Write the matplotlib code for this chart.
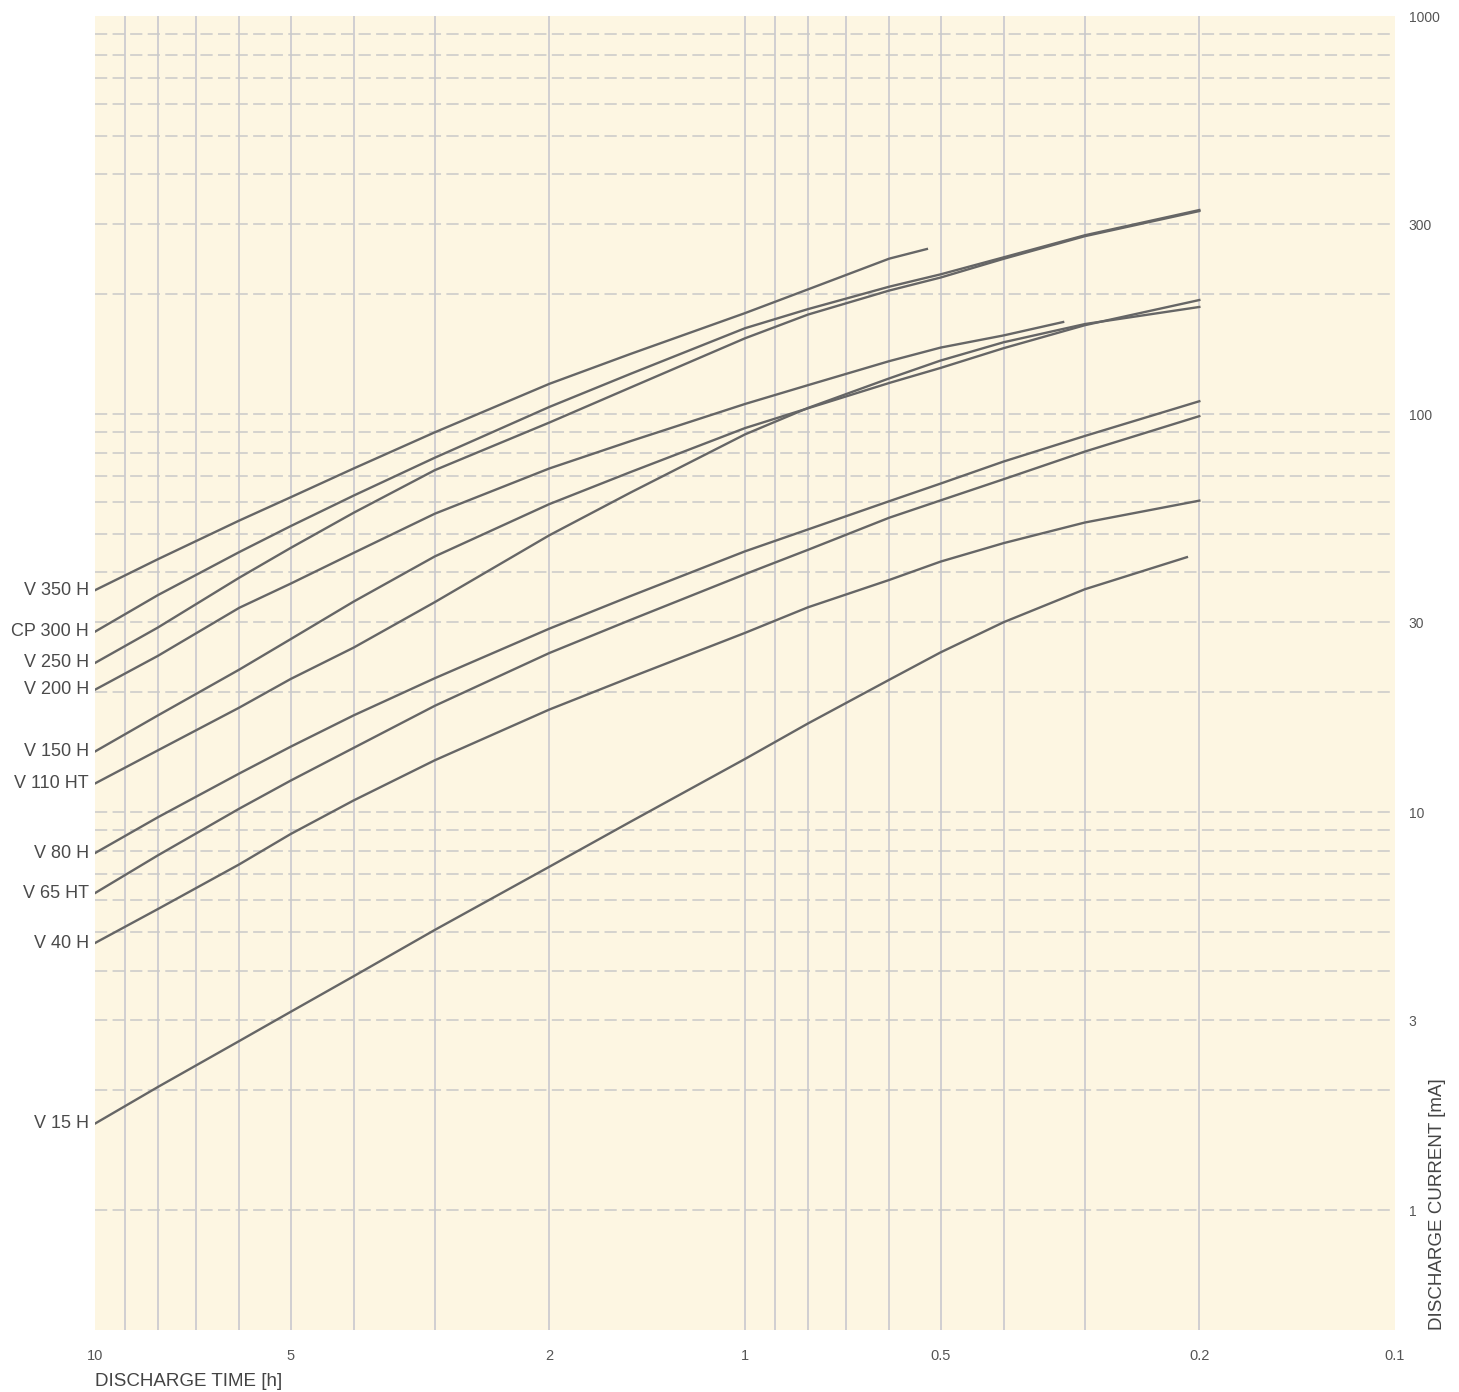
import matplotlib
matplotlib.use('Agg')
import matplotlib.pyplot as plt
from matplotlib.ticker import NullLocator

plt.rcParams['font.family'] = ['Liberation Sans', 'DejaVu Sans']

# discharge time [h] vs discharge current [mA]
time_h = [10, 8, 6, 5, 4, 3, 2, 1.5, 1, 0.8, 0.6, 0.5, 0.4, 0.3, 0.2]

v350h_t = [10, 8, 6, 5, 4, 3, 2, 1.5, 1, 0.8, 0.6, 0.525]
v350h_i = [36.1, 43.2, 54.0, 61.8, 73.0, 90.0, 119.1, 141.6, 179.3, 205.7, 245.7, 259.8]

cp300h_i = [28.4, 35.1, 45.0, 52.3, 62.4, 77.7, 104.2, 126.2, 164.3, 183.5, 208.9, 224.4,
            247.6, 281.3, 325.5]

v250h_i = [23.7, 29.1, 38.8, 46.1, 56.5, 72.3, 95.2, 116.6, 155.0, 177.8, 204.3, 220.3,
           245.5, 279.8, 323.6]

v200h_t = [10, 8, 6, 5, 4, 3, 2, 1.5, 1, 0.8, 0.6, 0.5, 0.4, 0.324]
v200h_i = [20.3, 24.7, 32.6, 37.5, 44.8, 56.2, 73.0, 85.5, 106.0, 118.2, 135.8, 146.9,
           157.6, 170.3]

v150h_i = [14.2, 17.5, 22.8, 27.2, 33.8, 43.9, 59.4, 71.5, 92.2, 103.4, 119.7, 130.6,
           146.4, 167.2, 193.4]

v110ht_i = [11.8, 14.3, 18.3, 21.6, 25.9, 33.7, 49.6, 63.5, 88.9, 103.6, 122.9, 136.3,
            151.5, 168.3, 185.8]

v80h_i = [7.89, 9.71, 12.5, 14.6, 17.5, 21.7, 28.9, 34.9, 45.2, 51.3, 60.4, 66.9,
          76.0, 88.1, 107.7]

v65ht_i = [6.26, 7.79, 10.2, 12.0, 14.5, 18.5, 25.1, 30.4, 39.6, 45.6, 54.9, 60.7,
           68.6, 80.5, 98.8]

v40h_i = [4.69, 5.71, 7.39, 8.81, 10.7, 13.5, 18.1, 21.8, 28.2, 32.7, 38.3, 42.6,
          47.4, 53.4, 60.6]

v15h_t = [10, 8, 6, 5, 4, 3, 2, 1.5, 1, 0.8, 0.6, 0.5, 0.4, 0.3, 0.209]
v15h_i = [1.65, 2.04, 2.66, 3.15, 3.87, 5.06, 7.29, 9.46, 13.6, 16.7, 21.5, 25.2,
          30.0, 36.3, 43.7]

series = [
    ('V 350 H', v350h_t, v350h_i),
    ('CP 300 H', time_h, cp300h_i),
    ('V 250 H', time_h, v250h_i),
    ('V 200 H', v200h_t, v200h_i),
    ('V 150 H', time_h, v150h_i),
    ('V 110 HT', time_h, v110ht_i),
    ('V 80 H', time_h, v80h_i),
    ('V 65 HT', time_h, v65ht_i),
    ('V 40 H', time_h, v40h_i),
    ('V 15 H', v15h_t, v15h_i),
]

x_ticks = [10, 5, 2, 1, 0.5, 0.2, 0.1]
x_tick_labels = ['10', '5', '2', '1', '0.5', '0.2', '0.1']
y_ticks = [1, 3, 10, 30, 100, 300, 1000]
y_tick_labels = ['1', '3', '10', '30', '100', '300', '1000']

# gridlines of the printed log paper
time_grid = [9, 8, 7, 6, 5, 4, 3, 2, 1, 0.9, 0.8, 0.7, 0.6, 0.5, 0.4, 0.3, 0.2]
current_grid = [m * 10 ** e for e in range(3) for m in range(1, 10)]

W, H = 1459, 1392
fig = plt.figure(figsize=(W / 100, H / 100), dpi=100)
ax = fig.add_axes([95 / W, 62 / H, 1300 / W, 1314 / H])
ax.set_facecolor('#fdf6e2')
for s in ax.spines.values():
    s.set_visible(False)

ax.set_xscale('log')
ax.set_yscale('log')
ax.set_xlim(10, 0.1)
ax.set_ylim(0.5, 1000)

for t in time_grid:
    ax.axvline(t, color='#c4c4cc', lw=1.1, zorder=1)
for c in current_grid:
    ax.axhline(c, color='#c9c9c9', lw=1.1, ls=(0, (8, 3.5)), zorder=1)

for name, t, i in series:
    ax.plot(t, i, color='#666666', lw=1.7, zorder=3)
    ax.annotate(name, xy=(t[0], i[0]), xytext=(-4.5, 0), textcoords='offset points',
                ha='right', va='center', fontsize=13, color='#4a4a4a',
                annotation_clip=False)

ax.set_xticks(x_ticks, x_tick_labels)
ax.xaxis.set_minor_locator(NullLocator())
ax.tick_params(axis='x', length=0, pad=14, labelsize=10.5, labelcolor='#555555')

ax.yaxis.tick_right()
ax.set_yticks(y_ticks, y_tick_labels)
ax.yaxis.set_minor_locator(NullLocator())
ax.tick_params(axis='y', length=0, pad=10, labelsize=10, labelcolor='#555555')

fig.text(95 / W, 1 - 1381 / H, 'DISCHARGE TIME [h]', ha='left', va='center',
         fontsize=13.5, color='#444444')
ax.text(1.0325, 0, 'DISCHARGE CURRENT [mA]', transform=ax.transAxes, rotation=90,
        ha='center', va='bottom', fontsize=13.5, color='#444444')

fig.savefig('out.png', dpi=100, facecolor='white')
